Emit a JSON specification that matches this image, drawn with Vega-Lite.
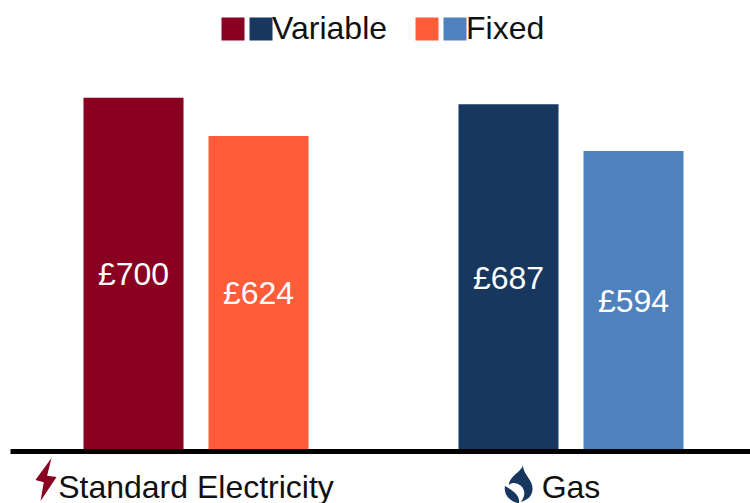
{"$schema":"https://vega.github.io/schema/vega-lite/v6.json","width":740,"height":449,"autosize":"none","padding":{"left":10,"top":0,"right":0,"bottom":54},"background":"white","config":{"view":{"stroke":null},"font":"Liberation Sans"},
"datasets":{"bars":[
{"group":"Standard Electricity","tariff":"Variable","series":"Electricity Variable","value":700,"label":"£700"},
{"group":"Standard Electricity","tariff":"Fixed","series":"Electricity Fixed","value":624,"label":"£624"},
{"group":"Gas","tariff":"Variable","series":"Gas Variable","value":687,"label":"£687"},
{"group":"Gas","tariff":"Fixed","series":"Gas Fixed","value":594,"label":"£594"}]},
"data":{"name":"bars"},
"layer":[
{"mark":{"type":"bar","clip":false},"encoding":{
"x":{"field":"group","type":"nominal","sort":["Standard Electricity","Gas"],"title":null,"scale":{"range":[0,747],"paddingInner":0.1,"paddingOuter":0.046},"axis":{"labelAngle":0,"labelFontSize":32,"labelLimit":0,"labelColor":"#111111","labelPadding":36,"labelBaseline":"middle","domainColor":"#000000","domainWidth":5,"offset":2,"ticks":false,"labelFont":"Liberation Sans"}},
"xOffset":{"field":"tariff","type":"nominal","sort":["Variable","Fixed"],"scale":{"domain":["Variable","Fixed"],"paddingInner":0.2,"paddingOuter":0.45}},
"y":{"field":"value","type":"quantitative","title":null,"scale":{"domain":[0,895],"nice":false},"axis":null},
"color":{"field":"series","type":"nominal","scale":{"domain":["Electricity Variable","Gas Variable","Electricity Fixed","Gas Fixed"],"range":["#8a0020","#17375e","#ff5c39","#4f81bd"]},
"legend":{"title":null,"orient":"none","legendX":207,"legendY":13,"direction":"horizontal","columns":4,"symbolType":"square","symbolSize":529,"symbolStrokeWidth":0,"labelFontSize":32,"labelColor":"#111111","labelOffset":-5,"columnPadding":-8,"labelLimit":0,"labelExpr":"datum.label=='Gas Variable'?'Variable\u2800':datum.label=='Gas Fixed'?'Fixed':''"}}}},
{"transform":[{"calculate":"datum.value/2","as":"mid"}],"mark":{"type":"text","color":"white","fontSize":32,"font":"Liberation Sans","dy":2},"encoding":{
"x":{"field":"group","type":"nominal","sort":["Standard Electricity","Gas"]},
"xOffset":{"field":"tariff","type":"nominal","sort":["Variable","Fixed"]},
"y":{"field":"mid","type":"quantitative"},
"text":{"field":"label","type":"nominal"}}},
{"data":{"values":[{"group":"Standard Electricity"}]},"mark":{"type":"point","filled":true,"clip":false,"opacity":1,"size":1936,"color":"#8a0020","xOffset":-150,"shape":"M0.25,-1L-0.48,0L-0.1,0.1L-0.25,0.95L0.48,-0.14L0.05,-0.2Z"},"encoding":{"x":{"field":"group","type":"nominal","sort":["Standard Electricity","Gas"]},"y":{"datum":-62}}},
{"data":{"values":[{"group":"Gas"}]},"mark":{"type":"point","filled":true,"clip":false,"opacity":1,"size":1600,"color":"#17375e","xOffset":-51,"shape":"M0.15,-1C0.2,-0.6 -0.55,-0.4 -0.55,0.1C-0.3,-0.15 0.15,0.1 0.2,0.4C0.25,0.6 0.15,0.8 0.05,0.95C0.5,0.8 0.7,0.5 0.6,0.1C0.5,-0.3 0.1,-0.5 0.15,-1ZM-0.75,0.15C-0.85,0.6 -0.4,1 -0.05,1C0,0.7 -0.2,0.45 -0.75,0.15Z"},"encoding":{"x":{"field":"group","type":"nominal","sort":["Standard Electricity","Gas"]},"y":{"datum":-68}}}
],
"resolve":{"scale":{"x":"shared","y":"shared"}}}
